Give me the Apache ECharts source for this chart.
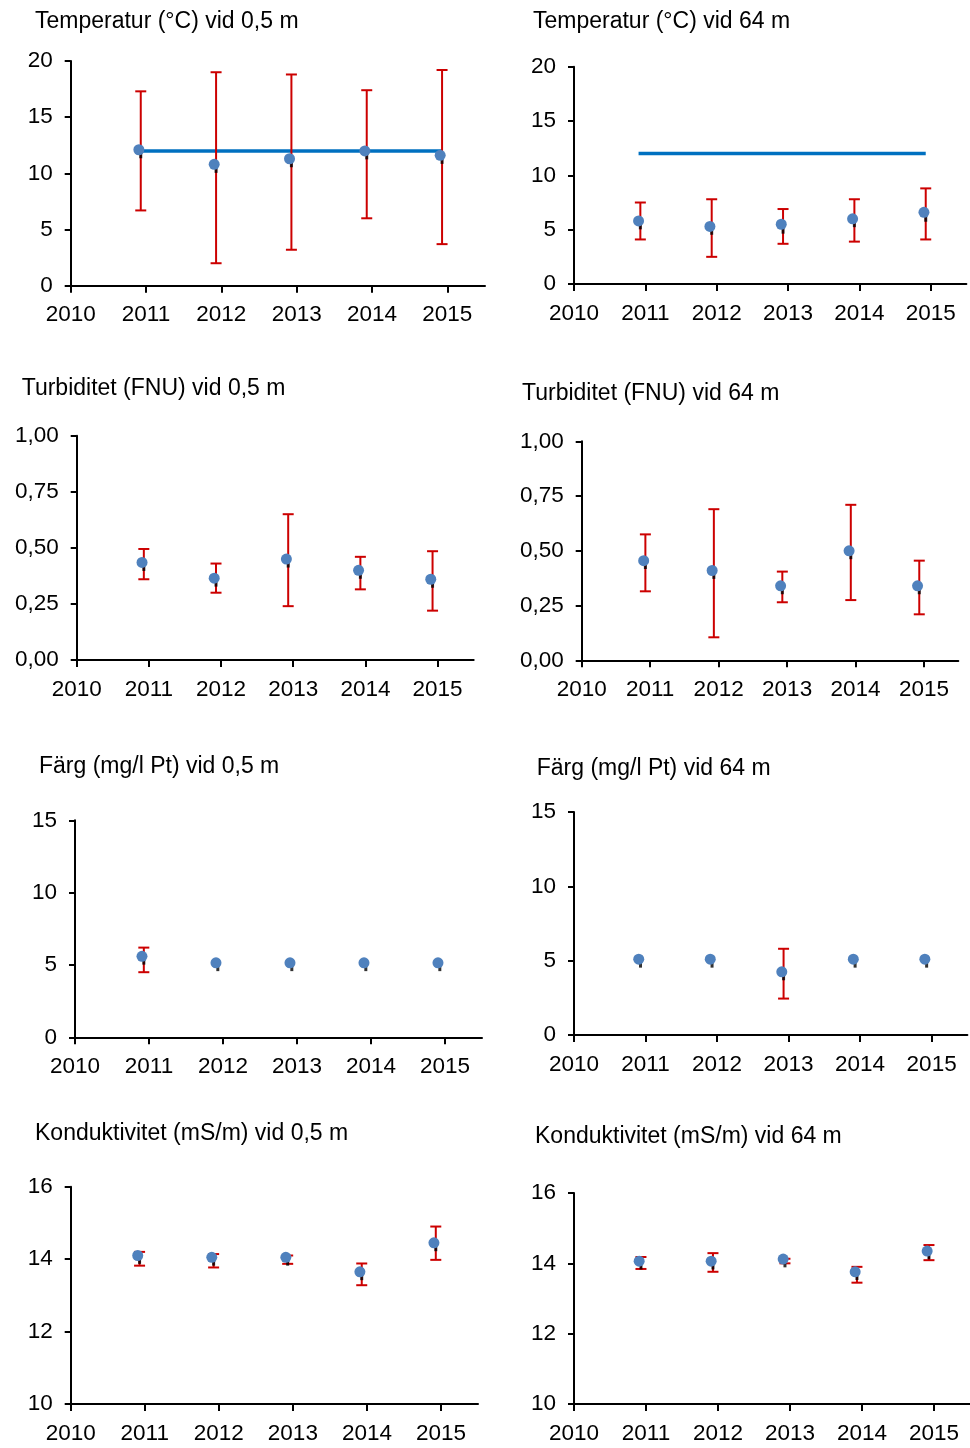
<!DOCTYPE html>
<html>
<head>
<meta charset="utf-8">
<script src="https://cdn.jsdelivr.net/npm/echarts@6/dist/echarts.min.js"></script>
<style>
html,body{margin:0;padding:0;background:#fff;}
#c{width:970px;height:1448px;}
</style>
</head>
<body>
<div id="c"></div>
<script>
// ---- data ----
const years = [2011, 2012, 2013, 2014, 2015];
const xTickLabels = [2010, 2011, 2012, 2013, 2014, 2015];

const titles = [
  'Temperatur (°C) vid 0,5 m', 'Temperatur (°C) vid 64 m',
  'Turbiditet (FNU) vid 0,5 m', 'Turbiditet (FNU) vid 64 m',
  'Färg (mg/l Pt) vid 0,5 m', 'Färg (mg/l Pt) vid 64 m',
  'Konduktivitet (mS/m) vid 0,5 m', 'Konduktivitet (mS/m) vid 64 m'
];

const tempTicks = [0, 5, 10, 15, 20];
const turbTicks = [0, 0.25, 0.5, 0.75, 1.0];
const fargTicks = [0, 5, 10, 15];
const kondTicks = [10, 12, 14, 16];

const tempRef = 12;

const temp05Mean   = [12.1, 10.8, 11.3, 12.0, 11.6];
const temp05Median = [11.7, 10.4, 10.9, 11.6, 11.2];
const temp05Low    = [6.7, 2.0, 3.2, 6.0, 3.7];
const temp05High   = [17.3, 19.0, 18.8, 17.4, 19.2];

const temp64Mean   = [5.8, 5.3, 5.5, 6.0, 6.6];
const temp64Median = [5.4, 4.9, 5.0, 5.6, 6.1];
const temp64Low    = [4.1, 2.5, 3.7, 3.9, 4.1];
const temp64High   = [7.5, 7.8, 6.9, 7.8, 8.8];

const turb05Mean   = [0.435, 0.365, 0.45, 0.40, 0.36];
const turb05Median = [0.415, 0.345, 0.43, 0.38, 0.34];
const turb05Low    = [0.36, 0.30, 0.24, 0.315, 0.22];
const turb05High   = [0.495, 0.43, 0.65, 0.46, 0.485];

const turb64Mean   = [0.455, 0.41, 0.34, 0.50, 0.34];
const turb64Median = [0.435, 0.39, 0.32, 0.48, 0.32];
const turb64Low    = [0.315, 0.105, 0.265, 0.275, 0.21];
const turb64High   = [0.575, 0.69, 0.405, 0.71, 0.455];

const farg05Mean   = [5.6, 5.15, 5.15, 5.15, 5.15];
const farg05Median = [5.3, 4.85, 4.85, 4.85, 4.85];
const farg05Low    = [4.5, null, null, null, null];
const farg05High   = [6.2, null, null, null, null];

const farg64Mean   = [5.1, 5.1, 4.25, 5.1, 5.1];
const farg64Median = [4.8, 4.8, 3.95, 4.8, 4.8];
const farg64Low    = [null, null, 2.45, null, null];
const farg64High   = [null, null, 5.8, null, null];

const kond05Mean   = [14.1, 14.05, 14.05, 13.65, 14.45];
const kond05Median = [13.98, 13.93, 13.93, 13.53, 14.33];
const kond05Low    = [13.82, 13.77, 13.87, 13.28, 13.98];
const kond05High   = [14.2, 14.14, 14.1, 13.88, 14.9];

const kond64Mean   = [14.06, 14.06, 14.12, 13.76, 14.35];
const kond64Median = [13.94, 13.94, 14.0, 13.64, 14.23];
const kond64Low    = [13.84, 13.76, 14.0, 13.45, 14.09];
const kond64High   = [14.18, 14.29, 14.13, 13.9, 14.52];

// ---- layout / style ----
const FONT = '"Liberation Sans", Arial, sans-serif';
const BLUE = '#4F81BD';
const RED = '#CC0000';
const LINEBLUE = '#0070C0';
const DOT_DX = -0.095;
const BAR_DX = -0.07;

const panels = [
  {mean: temp05Mean, med: temp05Median, lo: temp05Low, hi: temp05High, ticks: tempTicks, ref: tempRef, dec: 0,
   grid: {left: 70.7, top: 61, width: 414.3, height: 224.7}, title: {left: 35, top: 10.2}},
  {mean: temp64Mean, med: temp64Median, lo: temp64Low, hi: temp64High, ticks: tempTicks, ref: tempRef, dec: 0,
   grid: {left: 574, top: 66.7, width: 392.4, height: 217.3}, title: {left: 533, top: 10.2}},
  {mean: turb05Mean, med: turb05Median, lo: turb05Low, hi: turb05High, ticks: turbTicks, dec: 2,
   grid: {left: 76.7, top: 435.7, width: 397, height: 224.3}, title: {left: 21.7, top: 377.5}},
  {mean: turb64Mean, med: turb64Median, lo: turb64Low, hi: turb64High, ticks: turbTicks, dec: 2,
   grid: {left: 581.7, top: 441.3, width: 376.6, height: 219}, title: {left: 522, top: 382.5}},
  {mean: farg05Mean, med: farg05Median, lo: farg05Low, hi: farg05High, ticks: fargTicks, dec: 0,
   grid: {left: 75, top: 820.3, width: 407, height: 217}, title: {left: 39, top: 755.2}},
  {mean: farg64Mean, med: farg64Median, lo: farg64Low, hi: farg64High, ticks: fargTicks, dec: 0,
   grid: {left: 574, top: 812, width: 393.4, height: 223}, title: {left: 536.7, top: 757.5}},
  {mean: kond05Mean, med: kond05Median, lo: kond05Low, hi: kond05High, ticks: kondTicks, dec: 0,
   grid: {left: 70.7, top: 1186.7, width: 407.3, height: 217.3}, title: {left: 35, top: 1122.5}},
  {mean: kond64Mean, med: kond64Median, lo: kond64Low, hi: kond64High, ticks: kondTicks, dec: 0,
   grid: {left: 574, top: 1193, width: 401.5, height: 211}, title: {left: 535, top: 1125.2}}
];

const option = {
  animation: false,
  backgroundColor: '#ffffff',
  title: [], grid: [], xAxis: [], yAxis: [], series: []
};

function errRender(params, api) {
  const x = api.value(0), lo = api.value(1), hi = api.value(2);
  const a = api.coord([x, lo]);
  const b = api.coord([x, hi]);
  const hw = 5.5;
  const st = {stroke: RED, lineWidth: 2};
  return {type: 'group', children: [
    {type: 'line', shape: {x1: a[0], y1: a[1], x2: b[0], y2: b[1]}, style: st},
    {type: 'line', shape: {x1: a[0] - hw, y1: a[1], x2: a[0] + hw, y2: a[1]}, style: st},
    {type: 'line', shape: {x1: b[0] - hw, y1: b[1], x2: b[0] + hw, y2: b[1]}, style: st}
  ]};
}

panels.forEach((p, i) => {
  option.title.push({
    text: titles[i], left: p.title.left, top: p.title.top, padding: 0,
    textStyle: {fontFamily: FONT, fontSize: 23, fontWeight: 'normal', color: '#000', lineHeight: 23}
  });
  option.grid.push(Object.assign({containLabel: false}, p.grid));
  option.xAxis.push({
    type: 'value', gridIndex: i, min: 2010, max: 2015.5, interval: 1,
    splitLine: {show: false},
    axisLine: {show: true, onZero: false, lineStyle: {color: '#000', width: 2}},
    axisTick: {show: true, length: 7, lineStyle: {color: '#000', width: 2}, customValues: xTickLabels},
    axisLabel: {fontFamily: FONT, fontSize: 22.5, color: '#000', margin: 18, customValues: xTickLabels,
      formatter: v => String(v)}
  });
  const tmin = p.ticks[0], tmax = p.ticks[p.ticks.length - 1];
  option.yAxis.push({
    type: 'value', gridIndex: i, min: tmin, max: tmax, interval: p.ticks[1] - p.ticks[0],
    splitLine: {show: false},
    axisLine: {show: true, onZero: false, lineStyle: {color: '#000', width: 2}},
    axisTick: {show: true, length: 6, lineStyle: {color: '#000', width: 2}, customValues: p.ticks},
    axisLabel: {fontFamily: FONT, fontSize: 22.5, color: '#000', margin: 18, customValues: p.ticks,
      formatter: v => v.toFixed(p.dec).replace('.', ',')}
  });
  if (p.ref !== undefined) {
    option.series.push({
      type: 'line', xAxisIndex: i, yAxisIndex: i, symbol: 'none', z: 2,
      lineStyle: {color: LINEBLUE, width: 3.5},
      data: [[years[0] + DOT_DX, p.ref], [years[years.length - 1] + BAR_DX, p.ref]]
    });
  }
  const errData = [];
  years.forEach((y, k) => {
    if (p.lo[k] !== null && p.hi[k] !== null) errData.push([y + BAR_DX, p.lo[k], p.hi[k]]);
  });
  option.series.push({
    type: 'custom', xAxisIndex: i, yAxisIndex: i, z: 3,
    renderItem: errRender, encode: {x: 0, y: [1, 2]}, data: errData
  });
  option.series.push({
    type: 'scatter', xAxisIndex: i, yAxisIndex: i, z: 4,
    symbol: 'rect', symbolSize: [3, 8], itemStyle: {color: '#000'},
    data: years.map((y, k) => [y + BAR_DX, p.med[k]])
  });
  option.series.push({
    type: 'scatter', xAxisIndex: i, yAxisIndex: i, z: 5,
    symbol: 'circle', symbolSize: 11, itemStyle: {color: BLUE, opacity: 1},
    data: years.map((y, k) => [y + DOT_DX, p.mean[k]])
  });
});

const chart = echarts.init(document.getElementById('c'), null, {renderer: 'canvas'});
chart.setOption(option);
</script>
</body>
</html>
